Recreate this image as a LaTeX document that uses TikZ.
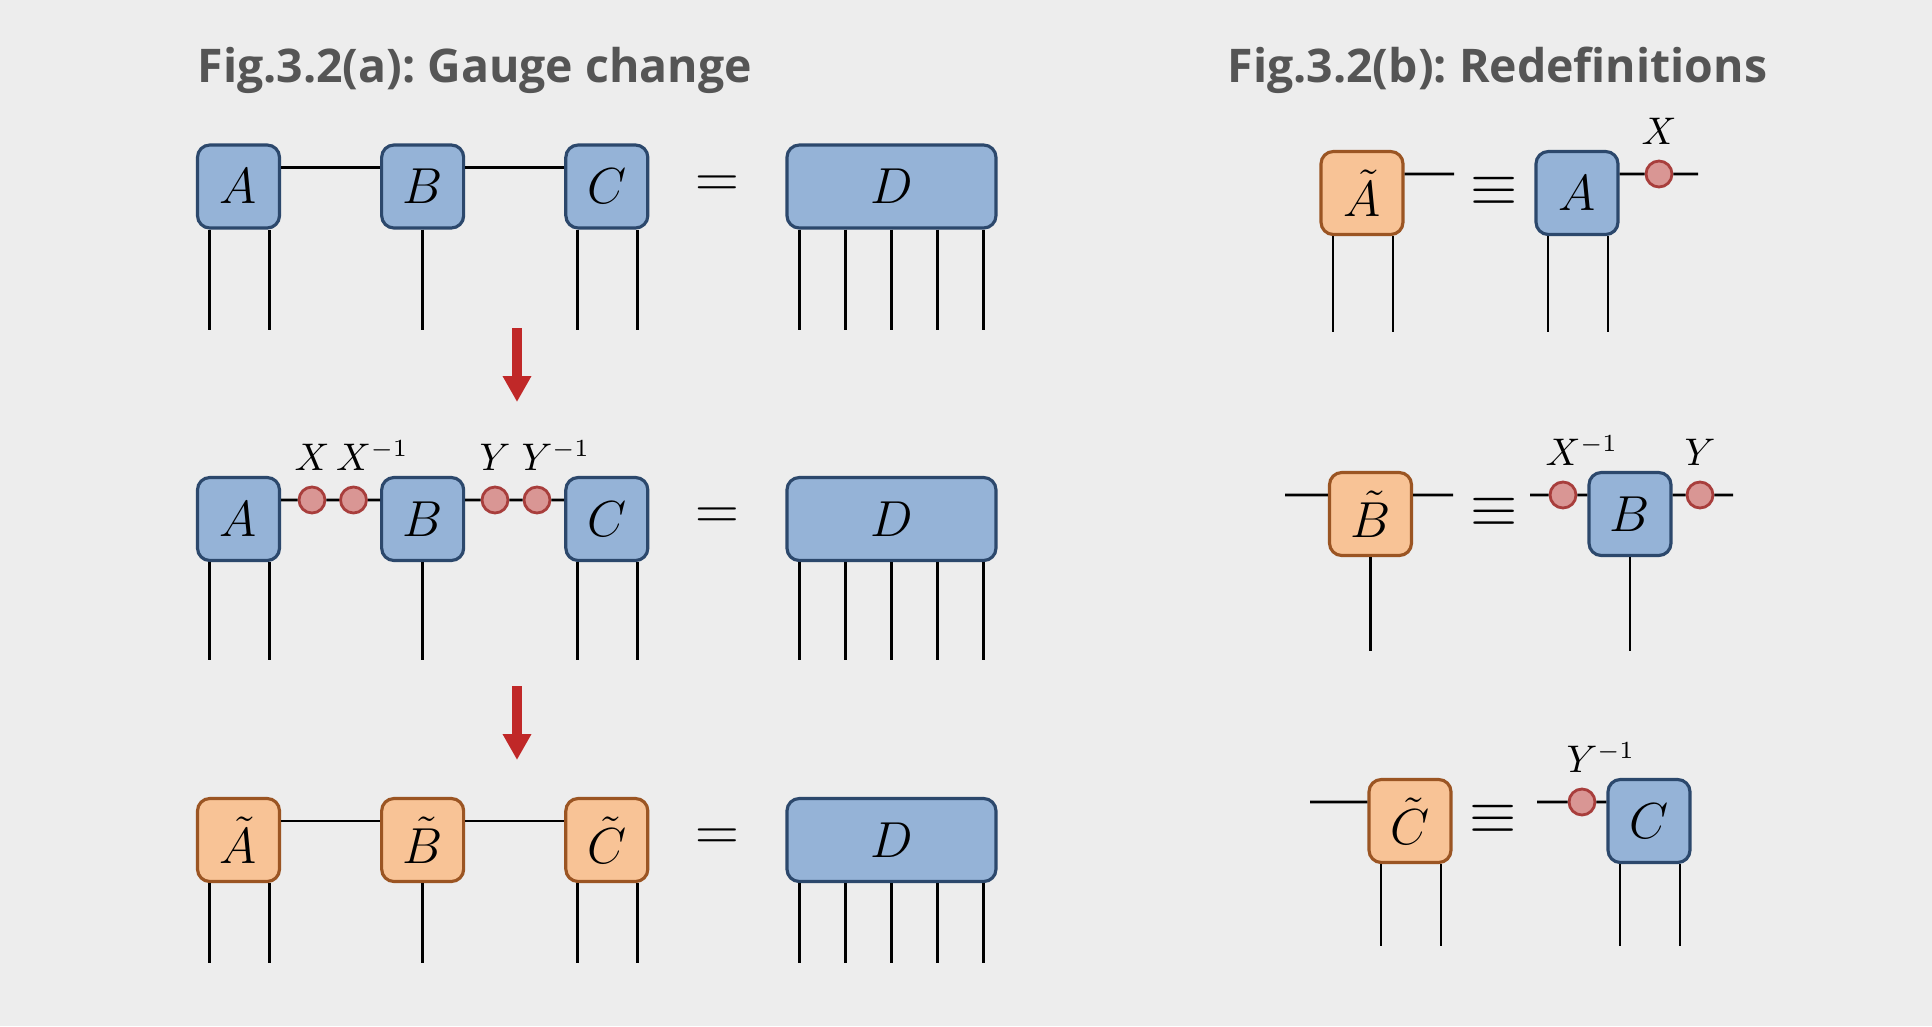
\documentclass[tikz,border=0pt]{standalone}
\usepackage{fontspec}
\newfontfamily\titlefont{Open Sans}
\usetikzlibrary{positioning,arrows.meta,calc}
\definecolor{paper}{RGB}{237,237,237}
\definecolor{tblue}{RGB}{149,179,215}
\definecolor{tblueline}{RGB}{44,72,108}
\definecolor{torange}{RGB}{248,195,150}
\definecolor{torangeline}{RGB}{155,85,35}
\definecolor{gatefill}{RGB}{217,150,148}
\definecolor{gateline}{RGB}{168,62,60}
\definecolor{flowred}{RGB}{192,40,40}
\definecolor{titlegray}{RGB}{85,85,85}
\frenchspacing

\begin{document}
\begin{tikzpicture}[x=0.1mm, y=-0.1mm,
    node distance=9.9mm,
    tensor/.style   ={rectangle, rounded corners=3.5pt, draw=tblueline, fill=tblue, line width=0.9pt,
                      minimum width=8.2mm, minimum height=8.3mm, inner sep=0pt, font=\fontsize{15}{18}\selectfont},
    newtensor/.style={tensor, draw=torangeline, fill=torange},
    bigtensor/.style={tensor, minimum width=20.9mm},
    gate/.style     ={circle, draw=gateline, fill=gatefill, line width=0.8pt, minimum size=2.6mm, inner sep=0pt},
    glabel/.style   ={anchor=base, inner sep=0pt, font=\fontsize{10.5}{12}\selectfont},
    rel/.style      ={inner sep=0pt, font=\fontsize{16}{19}\selectfont},
    bond/.style     ={line width=0.75pt, black},
    leg/.style      ={line width=0.8pt, black},
    flow/.style     ={-{Triangle[width=2.7mm,length=2.6mm]}, line width=1mm, flowred},
    title/.style    ={anchor=base west, inner sep=0pt, text=titlegray,
                      font=\titlefont\bfseries\fontsize{13.2}{16}\selectfont}]
    \fill[paper] (0,0) rectangle (1932,1026);
    \useasboundingbox (0,0) rectangle (1932,1026);

    \node[title] (ta) at (197,82)  {Fig.3.2(a): Gauge change};
    \node[title] (tb) at (1227,82) {Fig.3.2(b): Redefinitions};

    % (a) original network
    \node[tensor]                   (A1) at (238.5,186.5) {$A$};
    \node[tensor, right=of A1]      (B1) {$B$};
    \node[tensor, right=of B1]      (C1) {$C$};
    \node[bigtensor, right=13.6mm of C1] (D1) {$D$};
    \node[rel] (eq1) at ($(C1.east)!0.5!(D1.west)$) {$=$};
    \draw[bond] ([yshift=1.9mm]A1.east) -- ([yshift=1.9mm]B1.west);
    \draw[bond] ([yshift=1.9mm]B1.east) -- ([yshift=1.9mm]C1.west);

    \coordinate (f1a) at (517,328);
    \coordinate (f1b) at (517,402);
    \draw[flow] (f1a) -- (f1b);

    % (a) gauges inserted
    \node[tensor]                   (A2) at (238.5,519) {$A$};
    \node[tensor, right=of A2]      (B2) {$B$};
    \node[tensor, right=of B2]      (C2) {$C$};
    \node[bigtensor, right=13.6mm of C2] (D2) {$D$};
    \node[rel] (eq2) at ($(C2.east)!0.5!(D2.west)$) {$=$};
    \node[gate] (gx)  at (312,500) {};
    \node[gate] (gxi) at (353.5,500) {};
    \node[gate] (gy)  at (495,500) {};
    \node[gate] (gyi) at (537,500) {};
    \draw[bond] ([yshift=1.9mm]A2.east) -- (gx) -- (gxi) -- ([yshift=1.9mm]B2.west);
    \draw[bond] ([yshift=1.9mm]B2.east) -- (gy) -- (gyi) -- ([yshift=1.9mm]C2.west);
    \node[glabel] (lx)  at ([yshift=3mm]gx.center)  {$X$};
    \node[glabel] (lxi) at ([yshift=3mm]gxi.center) {$X\rlap{$^{-1}$}$};
    \node[glabel] (ly)  at ([yshift=3mm]gy.center)  {$Y$};
    \node[glabel] (lyi) at ([yshift=3mm]gyi.center) {$Y\rlap{$^{-1}$}$};

    \coordinate (f2a) at (517,686);
    \coordinate (f2b) at (517,760);
    \draw[flow] (f2a) -- (f2b);

    % (a) redefined network
    \node[newtensor]                (A3) at (238.5,840) {$\tilde{A}$};
    \node[newtensor, right=of A3]   (B3) {$\tilde{B}$};
    \node[newtensor, right=of B3]   (C3) {$\tilde{C}$};
    \node[bigtensor, right=13.6mm of C3] (D3) {$D$};
    \node[rel] (eq3) at ($(C3.east)!0.5!(D3.west)$) {$=$};
    \draw[bond] ([yshift=1.9mm]A3.east) -- ([yshift=1.9mm]B3.west);
    \draw[bond] ([yshift=1.9mm]B3.east) -- ([yshift=1.9mm]C3.west);

    \foreach \t/\len in {A1/10, C1/10, A2/9.8, C2/9.8, A3/8, C3/8}
      \foreach \dx in {-2.9,3.1}
        \draw[leg] ([xshift=\dx mm]\t.south) -- ++(0,-\len mm);
    \foreach \t/\len in {B1/10, B2/9.8, B3/8}
      \draw[leg] (\t.south) -- ++(0,-\len mm);
    \foreach \t/\len in {D1/10, D2/9.8, D3/8}
      \foreach \dx in {-9.2,-4.6,0,4.6,9.2}
        \draw[leg] ([xshift=\dx mm]\t.south) -- ++(0,-\len mm);

    % (b) A tilde
    \node[newtensor] (At) at (1362,193) {$\tilde{A}$};
    \coordinate (Atr) at (1454,174);
    \draw[bond] ([yshift=1.9mm]At.east) -- (Atr);
    \node[rel] (eq4) at (1494,191) {$\equiv$};
    \node[tensor] (A4) at (1577,193) {$A$};
    \node[gate] (g4) at (1659,174) {};
    \coordinate (A4r) at (1698,174);
    \draw[bond] ([yshift=1.9mm]A4.east) -- (g4) -- (A4r);
    \node[glabel] (l4) at ([yshift=3mm]g4.center) {$X$};

    % (b) B tilde
    \node[newtensor] (Bt) at (1370.5,514) {$\tilde{B}$};
    \coordinate (Btl) at (1285,495);
    \coordinate (Btr) at (1453,495);
    \draw[bond] (Btl) -- ([yshift=1.9mm]Bt.west);
    \draw[bond] ([yshift=1.9mm]Bt.east) -- (Btr);
    \node[rel] (eq5) at (1494,512) {$\equiv$};
    \node[tensor] (B5) at (1630,514) {$B$};
    \node[gate] (g5a) at (1563,495) {};
    \node[gate] (g5b) at (1700,495) {};
    \coordinate (B5l) at (1530,495);
    \coordinate (B5r) at (1733,495);
    \draw[bond] (B5l) -- (g5a) -- ([yshift=1.9mm]B5.west);
    \draw[bond] ([yshift=1.9mm]B5.east) -- (g5b) -- (B5r);
    \node[glabel] (l5a) at ([yshift=3mm]g5a.center) {$X\rlap{$^{-1}$}$};
    \node[glabel] (l5b) at ([yshift=3mm]g5b.center) {$Y$};

    % (b) C tilde
    \node[newtensor] (Ct) at (1410,821) {$\tilde{C}$};
    \coordinate (Ctl) at (1310,802);
    \draw[bond] (Ctl) -- ([yshift=1.9mm]Ct.west);
    \node[rel] (eq6) at (1493,819) {$\equiv$};
    \node[tensor] (C6) at (1649,821) {$C$};
    \node[gate] (g6) at (1582,802) {};
    \coordinate (C6l) at (1537,802);
    \draw[bond] (C6l) -- (g6) -- ([yshift=1.9mm]C6.west);
    \node[glabel] (l6) at ([yshift=3mm]g6.center) {$Y\rlap{$^{-1}$}$};

    \foreach \t/\len in {At/9.6, A4/9.6, Ct/8.2, C6/8.2}
      \foreach \dx in {-2.9,3.1}
        \draw[leg] ([xshift=\dx mm]\t.south) -- ++(0,-\len mm);
    \foreach \t in {Bt, B5}
      \draw[leg] (\t.south) -- ++(0,-9.4mm);
  \end{tikzpicture}
\end{document}
